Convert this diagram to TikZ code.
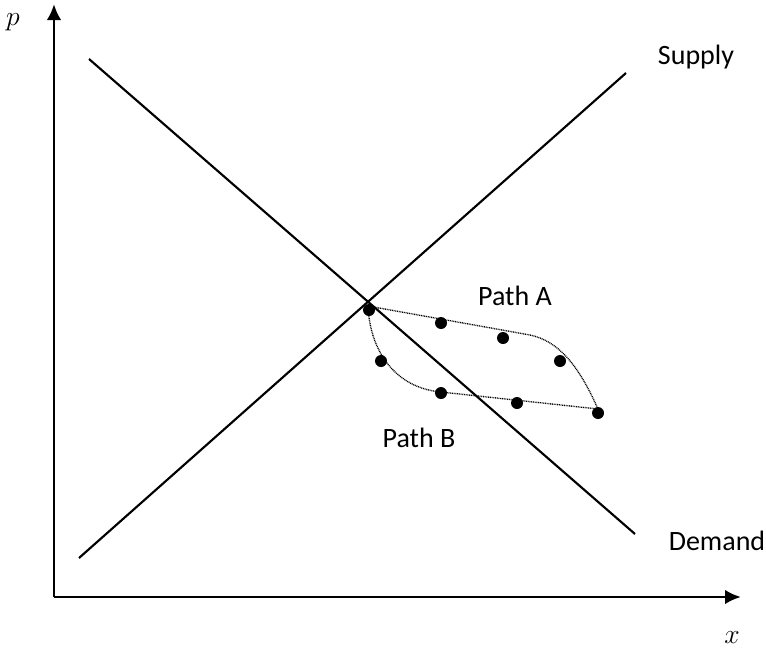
\documentclass[tikz,border=0pt]{standalone}
\usepackage{fontspec}
\setmainfont{Carlito}
\usepackage{tikz}
\tikzset{>=latex}
\usetikzlibrary{
    positioning, % relative placement
    arrows.meta, % arrow tips
    calc
}

\begin{document}
\begin{tikzpicture}[x=0.75pt, y=-0.75pt,
    axis/.style={line width=2.2pt, -{Latex[length=12pt, width=11pt]}},
    curve/.style={line width=1.6pt},
    path/.style={line width=1pt, dash pattern=on 0.7pt off 0.6pt},
    dot/.style={circle, fill, inner sep=0pt, minimum size=9pt},
    lbl/.style={font=\fontsize{21}{25}\selectfont, inner sep=0pt},
    mlbl/.style={font=\fontsize{22}{26}\selectfont, inner sep=0pt}
  ]
  % frame: keep the reference margins
  \useasboundingbox (0,0) rectangle (766,653);

  % ===================== AXES =====================
  \coordinate (origin) at (54,597);
  \coordinate (ptop)   at (54,4);
  \coordinate (xend)   at (741,597);
  \draw[axis] (origin) -- (ptop);
  \draw[axis] (origin) -- (xend);
  \node[mlbl] (plab) at (13,22)   {$p$};
  \node[mlbl] (xlab) at (732,638) {$x$};

  % ===================== SUPPLY / DEMAND =====================
  \coordinate (d0) at (89,59);
  \coordinate (d1) at (635,534);
  \coordinate (s0) at (79,558);
  \coordinate (s1) at (626,73);
  \draw[curve] (d0) -- (d1);
  \draw[curve] (s0) -- (s1);
  \node[lbl] (supply) at (696,57)  {Supply};
  \node[lbl] (demand) at (717,541) {Demand};

  % ===================== PATHS =====================
  \coordinate (eq)   at (368,306);
  \coordinate (bend) at (530,335);
  \coordinate (far)  at (598,409);
  \coordinate (low)  at (441,392);

  % path A: along the top, then down to the far point
  \draw[path] (eq) -- (bend) .. controls (558,341) and (578,364) .. (far);
  % path B: drop first, then across
  \draw[path] (eq) .. controls (370,352) and (396,388) .. (low) -- (far);

  % observed points
  \node[dot] (e)  at (369,310) {};
  \node[dot] (a1) at (441,323) {};
  \node[dot] (a2) at (503,338) {};
  \node[dot] (a3) at (560,361) {};
  \node[dot] (f)  at (598,413) {};
  \node[dot] (b1) at (381,361) {};
  \node[dot] (b2) at (441,393) {};
  \node[dot] (b3) at (517,403) {};

  \node[lbl] (pathA) at (515,296) {Path A};
  \node[lbl] (pathB) at (419,438) {Path B};
\end{tikzpicture}
\end{document}
